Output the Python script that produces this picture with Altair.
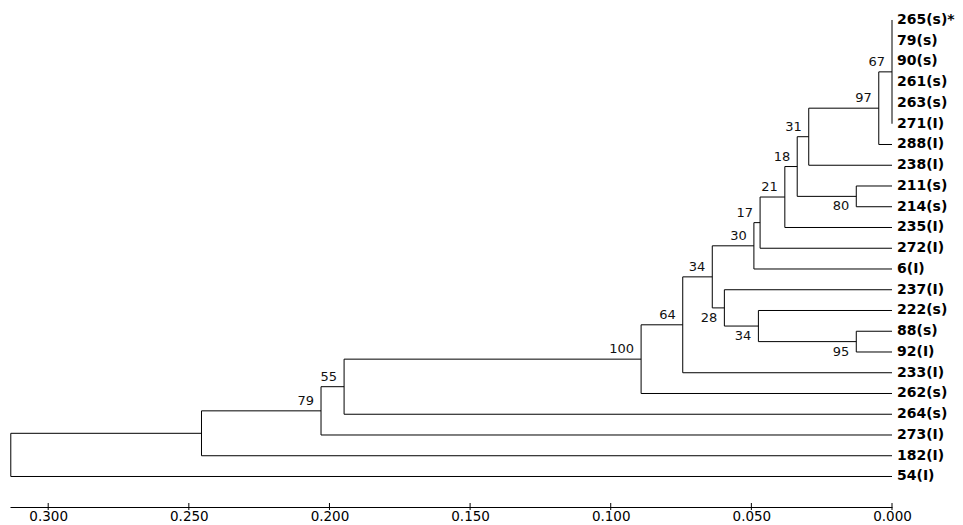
import altair as alt
import pandas as pd

# ---- data ----
leaf_labels = ["265(s)*", "79(s)", "90(s)", "261(s)", "263(s)", "271(I)", "288(I)",
               "238(I)", "211(s)", "214(s)", "235(I)", "272(I)", "6(I)", "237(I)",
               "222(s)", "88(s)", "92(I)", "233(I)", "262(s)", "264(s)", "273(I)",
               "182(I)", "54(I)"]

node_names = ["P", "N97", "N31", "N80", "N18", "N21", "N17", "N30", "N95", "N34b",
              "N28", "N34a", "N64", "N100", "N55", "N79", "NU", "ROOT"]
node_children = [
    ["265(s)*", "79(s)", "90(s)", "261(s)", "263(s)", "271(I)"],
    ["P", "288(I)"],
    ["N97", "238(I)"],
    ["211(s)", "214(s)"],
    ["N31", "N80"],
    ["N18", "235(I)"],
    ["N21", "272(I)"],
    ["N17", "6(I)"],
    ["88(s)", "92(I)"],
    ["222(s)", "N95"],
    ["237(I)", "N34b"],
    ["N30", "N28"],
    ["N34a", "233(I)"],
    ["N64", "262(s)"],
    ["N100", "264(s)"],
    ["N55", "273(I)"],
    ["N79", "182(I)"],
    ["NU", "54(I)"],
]
node_heights = [0.0, 0.0047, 0.0296, 0.0127, 0.0337, 0.0381, 0.0469, 0.0491, 0.0127,
                0.0475, 0.0596, 0.0639, 0.0744, 0.0892, 0.1948, 0.2030, 0.2455, 0.3133]
node_support = [67, 97, 31, 80, 18, 21, 17, 30, 95, 34, 28, 34, 64, 100, 55, 79, None, None]

tick_values = [0.0, 0.05, 0.10, 0.15, 0.20, 0.25, 0.30]

# ---- build tables from the tree ----
ypos = {lab: i for i, lab in enumerate(leaf_labels)}
hpos = {lab: 0.0 for lab in leaf_labels}
parent = {}
for name, ch, h in zip(node_names, node_children, node_heights):
    ypos[name] = (ypos[ch[0]] + ypos[ch[-1]]) / 2
    hpos[name] = h
    for k, c in enumerate(ch):
        parent[c] = (name, k)

segs = []
for name, ch in zip(node_names, node_children):
    h = hpos[name]
    segs.append({"x": h, "x2": h, "y": ypos[ch[0]], "y2": ypos[ch[-1]]})
    for c in ch:
        if hpos[c] != h:
            segs.append({"x": h, "x2": hpos[c], "y": ypos[c], "y2": ypos[c]})
seg_df = pd.DataFrame(segs)

leaf_df = pd.DataFrame({"x": [0.0] * len(leaf_labels),
                        "y": [ypos[l] for l in leaf_labels],
                        "label": leaf_labels})

sup_rows = []
for name, s in zip(node_names, node_support):
    if s is None:
        continue
    par, k = parent[name]
    sup_rows.append({"x": hpos[name], "y": ypos[name], "label": str(s),
                     "pos": "above" if k == 0 else "below"})
sup_df = pd.DataFrame(sup_rows)
tick_df = pd.DataFrame({"x": tick_values})

W, H = 882, 499
xs = alt.Scale(domain=[0, 0.31358], reverse=True, nice=False, zero=False)
ys = alt.Scale(domain=[-0.5783, 23.470], reverse=True, nice=False, zero=False)
xaxis = alt.Axis(values=tick_values, format=".3f", title=None, ticks=False, grid=False,
                 domainColor="black", domainWidth=1, labelFont="DejaVu Sans",
                 labelFontSize=13.5, labelColor="#000", labelPadding=2,
                 labelFlush=False, labelOverlap=False)

X = alt.X("x:Q", scale=xs, axis=xaxis)
Y = alt.Y("y:Q", scale=ys, axis=None)

lines = alt.Chart(seg_df).mark_rule(color="black", strokeWidth=1).encode(
    x=X, x2="x2:Q", y=Y, y2="y2:Q")

leaves = alt.Chart(leaf_df).mark_text(
    align="left", baseline="middle", dx=5, font="DejaVu Sans", fontSize=14,
    fontWeight="bold", color="black").encode(x=X, y=Y, text="label:N")

above = alt.Chart(sup_df[sup_df.pos == "above"]).mark_text(
    align="right", baseline="middle", dx=-7, dy=-10, font="DejaVu Sans",
    fontSize=13, color="#111").encode(x=X, y=Y, text="label:N")
below = alt.Chart(sup_df[sup_df.pos == "below"]).mark_text(
    align="right", baseline="middle", dx=-7, dy=10, font="DejaVu Sans",
    fontSize=13, color="#111").encode(x=X, y=Y, text="label:N")

ticks = alt.Chart(tick_df).mark_rule(color="black", strokeWidth=1).encode(
    x=X, y=alt.value(H - 4), y2=alt.value(H + 3))

chart = alt.layer(lines, leaves, above, below, ticks).properties(
    width=W, height=H,
    background="white",
    autosize=alt.AutoSizeParams(type="none"),
    padding={"left": 2, "top": 0, "right": 63, "bottom": 18},
).configure_view(stroke=None)

chart.save("out.html", embed_options={"renderer": "svg", "actions": False})
